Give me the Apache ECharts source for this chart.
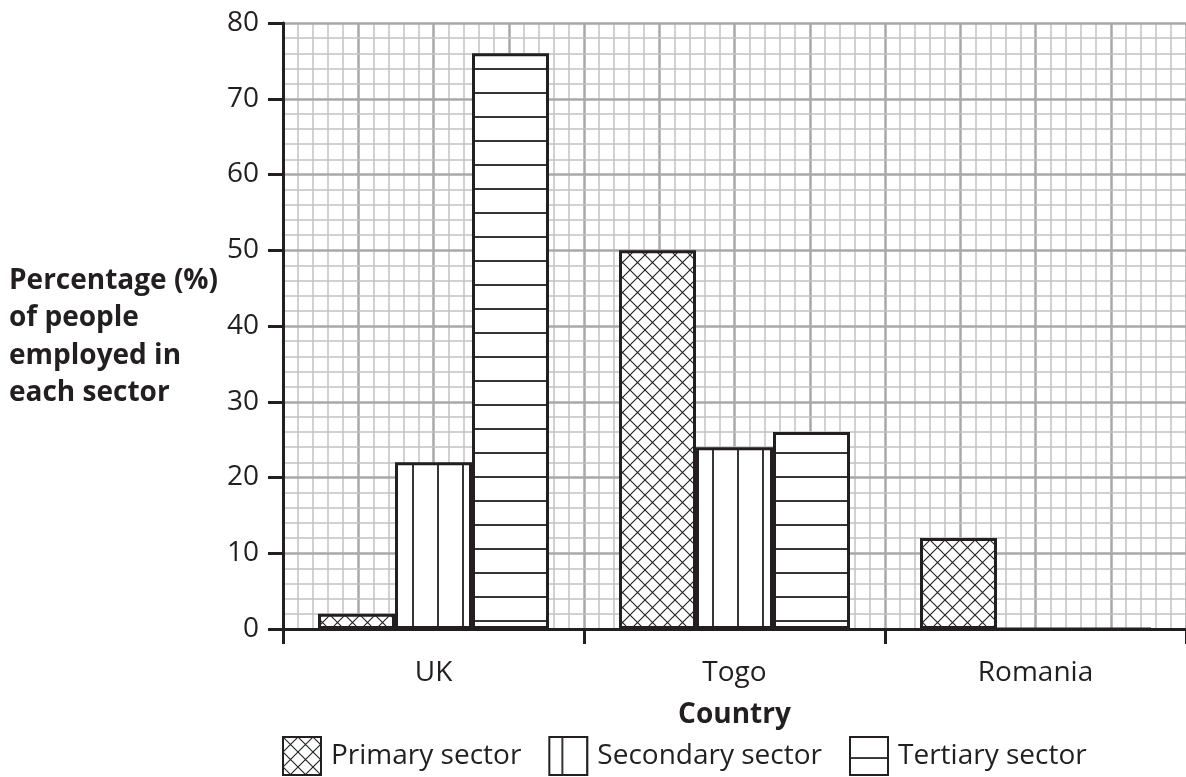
<!DOCTYPE html>
<html><head><meta charset="utf-8">
<script src="https://cdn.jsdelivr.net/npm/echarts@6/dist/echarts.min.js"></script>
<style>html,body{margin:0;padding:0;background:#fff}#c{width:1186px;height:777px}</style>
</head><body><div id="c"></div>
<script>
const categories = ['UK', 'Togo', 'Romania'];
const seriesNames = ['Primary sector', 'Secondary sector', 'Tertiary sector'];
const primary = [2, 50, 12];
const secondary = [22, 24, 0];
const tertiary = [76, 26, 0];
const yAxisTitle = ['Percentage (%)', 'of people', 'employed in', 'each sector'];
const xAxisTitle = 'Country';

const INK = '#231f20';
const FONT = '"Open Sans", sans-serif';

function pattern(kind) {
  const c = document.createElement('canvas');
  let w, h;
  if (kind === 'hatch') { w = 15; h = 15; }
  else if (kind === 'vert') { w = 25; h = 10; }
  else { w = 10; h = 24; }
  c.width = w; c.height = h;
  const g = c.getContext('2d');
  g.fillStyle = '#fff'; g.fillRect(0, 0, w, h);
  g.strokeStyle = INK;
  if (kind === 'hatch') {
    g.lineWidth = 1.1;
    g.beginPath();
    g.moveTo(-2, -2); g.lineTo(w + 2, h + 2);
    g.moveTo(w + 2, -2); g.lineTo(-2, h + 2);
    g.stroke();
  } else if (kind === 'vert') {
    g.lineWidth = 1.8;
    g.beginPath(); g.moveTo(13, 0); g.lineTo(13, h); g.stroke();
  } else {
    g.lineWidth = 1.8;
    g.beginPath(); g.moveTo(0, 21); g.lineTo(w, 21); g.stroke();
  }
  return { image: c, repeat: 'repeat' };
}

const fills = [pattern('hatch'), pattern('vert'), pattern('horiz')];
const datasets = [primary, secondary, tertiary];

const chart = echarts.init(document.getElementById('c'), null, { renderer: 'canvas' });
const gridLineMajor = { show: true, lineStyle: { color: '#a8a8aa', width: 2.5 } };
const gridLineMinor = { show: true, lineStyle: { color: '#c2c2c4', width: 1.5 } };

chart.setOption({
  animation: false,
  backgroundColor: '#fff',
  textStyle: { fontFamily: FONT },
  grid: { left: 283, top: 23, width: 909, height: 606, containLabel: false },
  xAxis: [{
    type: 'category',
    data: categories,
    position: 'bottom',
    axisLine: { lineStyle: { color: INK, width: 3 } },
    axisTick: { show: true, length: 15, lineStyle: { color: INK, width: 3 } },
    axisLabel: { color: INK, fontSize: 28, fontFamily: FONT, margin: 30 },
    splitLine: { show: false },
    name: xAxisTitle,
    nameLocation: 'middle',
    nameGap: 72,
    nameTextStyle: { color: INK, fontSize: 28, fontWeight: 'bold', fontFamily: FONT },
    z: 4
  }, {
    type: 'value',
    position: 'top',
    min: 0, max: 120, interval: 10,
    axisLine: { show: false }, axisTick: { show: false }, axisLabel: { show: false },
    minorTick: { show: false, splitNumber: 5 },
    splitLine: gridLineMajor,
    minorSplitLine: gridLineMinor,
    z: 0
  }],
  yAxis: {
    type: 'value',
    min: 0, max: 80, interval: 10,
    axisLine: { show: true, lineStyle: { color: INK, width: 3 } },
    axisTick: { show: true, length: 15, lineStyle: { color: INK, width: 3 } },
    axisLabel: { color: INK, fontSize: 28, fontFamily: FONT, margin: 24 },
    minorTick: { show: false, splitNumber: 5 },
    splitLine: gridLineMajor,
    minorSplitLine: gridLineMinor,
    z: 1
  },
  legend: {
    left: 282, top: 736, padding: 0,
    itemWidth: 38, itemHeight: 38, itemGap: 27,
    icon: 'rect',
    textStyle: { color: INK, fontSize: 28, fontFamily: FONT, padding: [0, 0, 0, 5] },
    data: seriesNames
  },
  graphic: [{
    type: 'text', left: 9, top: 262,
    style: {
      text: yAxisTitle.join('\n'),
      font: 'bold 28px ' + FONT,
      lineHeight: 37.5,
      fill: INK
    }
  }],
  series: seriesNames.map((n, i) => ({
    name: n,
    type: 'bar',
    xAxisIndex: 0,
    data: datasets[i],
    barWidth: 77,
    barGap: '0%',
    itemStyle: { color: fills[i], borderColor: INK, borderWidth: 3 },
    emphasis: { disabled: true },
    z: 3
  }))
});
</script></body></html>
